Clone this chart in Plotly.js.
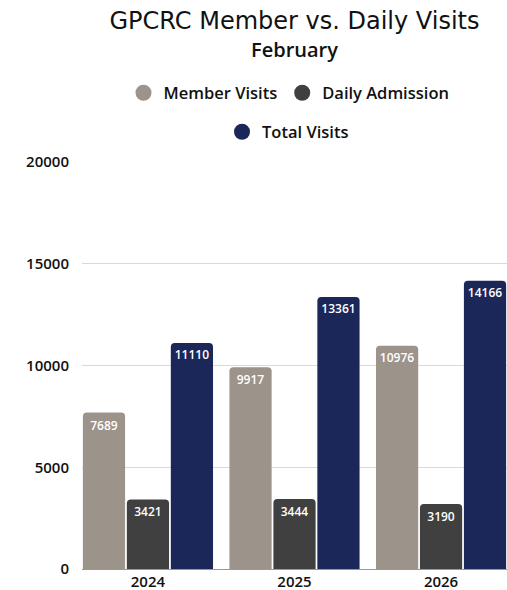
<!DOCTYPE html>
<html><head><meta charset="utf-8">
<script src="https://cdn.plot.ly/plotly-3.0.1.min.js"></script>
<style>body{margin:0;background:#fff}#c{width:507px;height:590px}</style>
</head><body><div id="c"></div>
<script>
const years = ['2024','2025','2026'];
const memberVisits = [7689, 9917, 10976];
const dailyAdmission = [3421, 3444, 3190];
const totalVisits = [11110, 13361, 14166];
const seriesNames = ['Member Visits','Daily Admission','Total Visits'];
const colors = ['#9c938b','#404040','#1b2759'];
const yTicks = [0,5000,10000,15000,20000];

const FONT = 'Open Sans, sans-serif';
const TFONT = 'DejaVu Sans, sans-serif';
const series = [memberVisits, dailyAdmission, totalVisits];
const traces = [];
series.forEach((vals,i)=>{
  traces.push({
    type:'bar', x:years, y:vals, name:seriesNames[i], showlegend:false,
    marker:{color:colors[i]},
    text:vals.map(String), textposition:'inside', insidetextanchor:'end', textangle:0,
    insidetextfont:{color:'#ffffff', size:12, family:FONT, weight:600},
    constraintext:'none', hoverinfo:'x+y'
  });
});
series.forEach((vals,i)=>{
  traces.push({
    type:'scatter', mode:'markers', x:[null], y:[null], name:seriesNames[i],
    marker:{color:colors[i], size:17, symbol:'circle'},
    legend: i<2 ? 'legend' : 'legend2', showlegend:true
  });
});

const legendBase = {orientation:'h', xref:'container', yref:'container', xanchor:'center', yanchor:'middle',
  font:{family:FONT, size:16.5, color:'#111', weight:600}, bgcolor:'rgba(0,0,0,0)', itemclick:false, itemdoubleclick:false};

const layout = {
  width:507, height:590,
  margin:{l:82, r:0, t:162, b:21},
  paper_bgcolor:'#fff', plot_bgcolor:'#fff',
  font:{family:FONT, color:'#111'},
  title:{text:'GPCRC Member vs. Daily Visits', xref:'paper', x:0.5, xanchor:'center',
    yref:'container', y:1-21/590, yanchor:'middle', font:{size:24, color:'#111', family:TFONT}},
  annotations:[{text:'February', xref:'paper', x:0.5, yref:'paper', y:1+ (162-50)/407, xanchor:'center', yanchor:'middle',
    showarrow:false, font:{size:20, color:'#111', family:FONT, weight:600}}],
  barmode:'group', bargap:0.1, bargroupgap:0.04, barcornerradius:4,
  xaxis:{type:'category', range:[-0.45,2.45], showgrid:false, showline:true, linecolor:'#999', linewidth:1,
    ticks:'', ticklabelstandoff:-1, tickfont:{size:15, color:'#111', family:FONT, weight:600}, fixedrange:true},
  yaxis:{range:[0,20000], tickvals:yTicks, ticktext:yTicks.map(String), showgrid:true, gridcolor:'#d9d9d9', gridwidth:1,
    zeroline:false, showline:false, ticks:'', ticklabelstandoff:12,
    tickfont:{size:15, color:'#111', family:FONT, weight:600}, fixedrange:true},
  legend:Object.assign({}, legendBase, {x:289/507, y:1-93/590}),
  legend2:Object.assign({}, legendBase, {x:288/507, y:1-132/590}),
  showlegend:true
};
Plotly.newPlot('c', traces, layout, {displayModeBar:false, staticPlot:true});
</script></body></html>
